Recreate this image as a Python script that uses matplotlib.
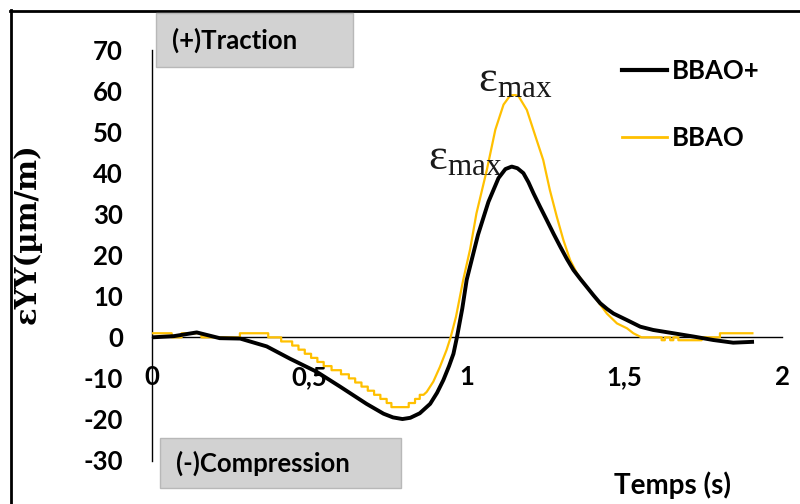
import matplotlib
matplotlib.use("Agg")
import matplotlib.pyplot as plt
from matplotlib.patches import Rectangle
from matplotlib.lines import Line2D

# ---------------- data ----------------
series_names = ["BBAO+", "BBAO"]

bbao_plus_t = [0, 0.07, 0.142, 0.215, 0.28, 0.364, 0.438, 0.523, 0.597, 0.681,
               0.735, 0.765, 0.795, 0.82, 0.85, 0.883, 0.905, 0.925, 0.943,
               0.957, 0.968, 0.985, 0.999, 1.035, 1.068, 1.100, 1.122, 1.142,
               1.160, 1.179, 1.195, 1.211, 1.232, 1.253, 1.275, 1.296, 1.317,
               1.338, 1.360, 1.380, 1.402, 1.423, 1.445, 1.465, 1.508, 1.550,
               1.591, 1.655, 1.719, 1.782, 1.845, 1.905]
bbao_plus_v = [0, 0.3, 1.2, -0.2, -0.3, -2.2, -5.2, -8.4, -12, -16.2,
               -18.6, -19.5, -19.9, -19.6, -18.5, -16.2, -13.5, -10.4, -7,
               -4, 0, 7, 14, 25, 33, 38.8, 41, 41.6,
               41.2, 40, 37.8, 35.1, 31.8, 28.6, 25.2, 22.1, 19.1,
               16.4, 14.2, 12.3, 10.2, 8.3, 6.9, 5.8, 4.2, 2.6,
               1.8, 1.0, 0.2, -0.65, -1.3, -1.1]

bbao_t = [0, 0.0625, 0.0625, 0.094, 0.094, 0.157, 0.157, 0.279, 0.279, 0.369,
          0.369, 0.41, 0.41, 0.445, 0.445, 0.465, 0.465, 0.485, 0.485, 0.505,
          0.505, 0.525, 0.525, 0.545, 0.545, 0.57, 0.57, 0.60, 0.60, 0.625,
          0.625, 0.645, 0.645, 0.665, 0.665, 0.685, 0.685, 0.705, 0.705, 0.725,
          0.725, 0.745, 0.745, 0.76, 0.76, 0.815, 0.815, 0.835, 0.835, 0.85,
          0.85, 0.862, 0.872, 0.893, 0.914, 0.935, 0.948, 0.965, 0.988, 1.01,
          1.030, 1.063, 1.090, 1.116, 1.135, 1.143, 1.155, 1.164, 1.190, 1.221,
          1.242, 1.263, 1.285, 1.306, 1.327, 1.349, 1.380, 1.412, 1.444, 1.476,
          1.508, 1.528, 1.554, 1.618, 1.618, 1.628, 1.628, 1.645, 1.645, 1.655,
          1.655, 1.671, 1.671, 1.745, 1.745, 1.803, 1.803, 1.906]
bbao_v = [1, 1, 0, 0, 1, 1, 0, 0, 1, 1,
          0, 0, -1, -1, -2, -2, -3, -3, -4, -4,
          -5, -5, -6, -6, -7, -7, -8, -8, -9, -9,
          -10, -10, -11, -11, -12, -12, -13, -13, -14, -14,
          -15, -15, -16, -16, -17, -17, -16, -16, -15, -15,
          -14, -14, -13.3, -10.8, -7.2, -3.1, 0, 5, 14, 21.5,
          30.2, 40.8, 50.6, 56.7, 58.7, 59, 59, 58.7, 55.4, 48.1,
          43.2, 35.9, 29.4, 23.7, 18.9, 15.6, 12.3, 9.1, 5.8, 3.4,
          2.2, 1.0, 0, 0, -0.7, -0.7, 0, 0, -0.7, -0.7,
          0, 0, -0.7, -0.7, 0, 0, 1, 1]

x_ticks = [0, 0.5, 1, 1.5, 2]
x_tick_labels = ["0", "0,5", "1", "1,5", "2"]
y_ticks = [-30, -20, -10, 0, 10, 20, 30, 40, 50, 60, 70]
y_tick_labels = [str(v) for v in y_ticks]

# ---------------- style ----------------
W, H = 800, 504
plt.rcParams['font.family'] = ['Lato', 'DejaVu Sans']
plt.rcParams['mathtext.fontset'] = 'custom'
plt.rcParams['mathtext.rm'] = 'Liberation Serif'
plt.rcParams['mathtext.it'] = 'Liberation Serif:italic'
plt.rcParams['mathtext.bf'] = 'Liberation Serif:bold'

BLACK = '#000000'
GOLD = '#FFC000'
FS = 18.5

fig = plt.figure(figsize=(W / 100, H / 100), dpi=100)


def fx(x):
    return x / W


def fy(y):
    return 1 - y / H


ax = fig.add_axes([fx(152), fy(460.5), 630 / W, 410.5 / H])
ax.set_xlim(0, 2)
ax.set_ylim(-30, 70)

ax.plot(bbao_t, bbao_v, color=GOLD, lw=1.6, zorder=3, label=series_names[1])
ax.plot(bbao_plus_t, bbao_plus_v, color=BLACK, lw=2.8, zorder=4,
        label=series_names[0], solid_joinstyle='round')

for s in ['top', 'right']:
    ax.spines[s].set_visible(False)
ax.spines['bottom'].set_position(('data', 0))
ax.spines['bottom'].set_linewidth(1.0)
ax.spines['left'].set_linewidth(1.0)

ax.set_xticks(x_ticks)
ax.set_xticklabels(x_tick_labels, fontsize=FS, fontweight='bold')
ax.set_yticks(y_ticks)
ax.set_yticklabels(y_tick_labels, fontsize=FS, fontweight='bold')
ax.tick_params(axis='x', length=0, pad=20)
ax.tick_params(axis='y', length=0, pad=21)

ax.set_ylabel('εYY(µm/m)', fontfamily='DejaVu Serif', fontweight='bold',
              fontsize=21)
ax.yaxis.set_label_coords((42 - 152) / 630, (460.5 - 234) / 410.5)
ax.set_xlabel('Temps (s)', fontsize=20, fontweight='bold')
ax.xaxis.set_label_coords((673 - 152) / 630, (460.5 - 485) / 410.5)
ax.xaxis.label.set_va('center')

# epsilon max annotations
ax.text(1.035, 63.1, r'$\mathrm{\varepsilon}_{\mathrm{max}}$', fontsize=32,
        ha='left', va='center', color='#1a1a1a')
ax.text(0.876, 44.0, r'$\mathrm{\varepsilon}_{\mathrm{max}}$', fontsize=32,
        ha='left', va='center', color='#1a1a1a')

# legend
handles = [Line2D([], [], color=BLACK, lw=3.0), Line2D([], [], color=GOLD, lw=2.0)]
leg = ax.legend(handles, series_names, loc='upper left',
                bbox_to_anchor=(fx(622), fy(59)), bbox_transform=fig.transFigure,
                frameon=False, borderpad=0, borderaxespad=0,
                handlelength=1.75, handletextpad=0.2, labelspacing=1.66,
                prop={'family': 'Lato', 'weight': 'bold', 'size': FS})

# gray boxes
for (x0, y0, x1, y1, txt, tx) in [(156, 13.3, 353, 67.3, '(+)Traction', 172),
                                   (160, 438.3, 401, 488.3, '(-)Compression', 176)]:
    fig.add_artist(Rectangle((fx(x0), fy(y1)), (x1 - x0) / W, (y1 - y0) / H,
                             transform=fig.transFigure, facecolor='#d2d2d2',
                             edgecolor='#b8b8b8', lw=1.0, zorder=5))
    fig.text(fx(tx), fy((y0 + y1) / 2), txt, fontsize=FS, fontweight='bold',
             ha='left', va='center', zorder=6)

# outer frame (cropped at right and bottom)
fig.add_artist(Line2D([fx(10), fx(805)], [fy(11.3), fy(11.3)],
                      transform=fig.transFigure, color='black', lw=2.0))
fig.add_artist(Line2D([fx(11.3), fx(11.3)], [fy(10), fy(510)],
                      transform=fig.transFigure, color='black', lw=2.0))

fig.savefig('out.png', dpi=100)
